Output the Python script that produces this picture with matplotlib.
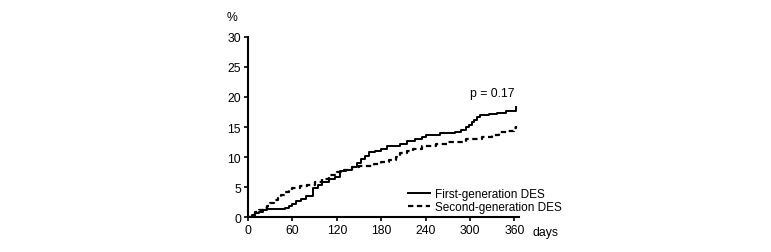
import matplotlib
matplotlib.use("Agg")
import matplotlib.pyplot as plt

plt.rcParams["font.family"] = ["Liberation Sans", "DejaVu Sans"]

# first-generation DES (solid step curve)
days_first = [0, 5, 10, 15, 20, 25, 50, 55, 60, 65, 72, 78, 85, 88, 95, 100, 110, 118, 124,
              132, 140, 147, 152, 158, 163, 172, 180, 188, 200, 205, 215, 225, 235, 241,
              259, 280, 288, 294, 298, 302, 306, 310, 313, 325, 337, 348, 357, 362]
rate_first = [0, 0.3, 0.6, 0.9, 1.1, 1.4, 1.5, 1.8, 2.2, 2.6, 3.0, 3.5, 3.5, 4.8, 5.4, 5.9, 6.3, 6.6, 7.6,
              7.9, 8.4, 9.0, 9.6, 10.2, 10.8, 11.0, 11.3, 11.8, 11.9, 12.2, 12.6, 13.0, 13.3, 13.6,
              14.0, 14.1, 14.5, 15.0, 15.4, 15.8, 16.2, 16.6, 17.0, 17.1, 17.4, 17.6, 17.7, 18.3]

# second-generation DES (dashed step curve)
days_second = [0, 5, 10, 15, 20, 25, 30, 35, 40, 45, 50, 55, 60, 70, 80, 90, 100, 110, 120,
               130, 140, 150, 160, 170, 180, 190, 200, 205, 215, 223, 235, 254, 270, 294,
               316, 330, 339, 350, 355, 360, 362]
rate_second = [0, 0.4, 0.8, 1.2, 1.5, 1.8, 2.3, 2.8, 3.2, 3.7, 4.1, 4.5, 4.8, 5.1, 5.4, 5.8, 6.4, 7.0, 7.5,
               7.9, 8.3, 8.5, 8.5, 8.8, 9.1, 9.5, 10.0, 10.6, 11.0, 11.3, 11.8, 12.2, 12.5, 13.0,
               13.3, 13.7, 14.1, 14.3, 14.4, 14.8, 15.2]

x_ticks = [0, 60, 120, 180, 240, 300, 360]
y_ticks = [0, 5, 10, 15, 20, 25, 30]

fig = plt.figure(figsize=(7.71, 2.53), dpi=100)
ax = fig.add_axes([0.3217, 0.138, 0.673 - 0.3217, 0.850 - 0.138])

ax.plot(days_first, rate_first, color="black", lw=1.4, drawstyle="steps-post",
        label="First-generation DES")
ax.plot(days_second, rate_second, color="black", lw=1.6, drawstyle="steps-post",
        linestyle=(0, (2.4, 1.6)), label="Second-generation DES")

ax.set_xlim(0, 366)
ax.set_ylim(0, 30)
ax.set_xticks(x_ticks)
ax.set_yticks(y_ticks)
for side in ["top", "right"]:
    ax.spines[side].set_visible(False)
for side in ["left", "bottom"]:
    ax.spines[side].set_linewidth(1.5)
ax.tick_params(direction="out", length=3, width=1.2, labelsize=8.8, pad=2)

ax.text(-0.04, 1.11, "%", transform=ax.transAxes, fontsize=8.8, ha="right", va="center")
ax.text(1.05, -0.085, "days", transform=ax.transAxes, fontsize=8.8, ha="left", va="center")
ax.text(330, 20.6, "p = 0.17", fontsize=8.8, ha="center", va="center")

ax.legend(loc="lower left", bbox_to_anchor=(0.57, -0.01), frameon=False, fontsize=8.5,
          handlelength=1.8, handletextpad=0.5, labelspacing=0.05, borderpad=0)

fig.savefig("out.png", dpi=100)
